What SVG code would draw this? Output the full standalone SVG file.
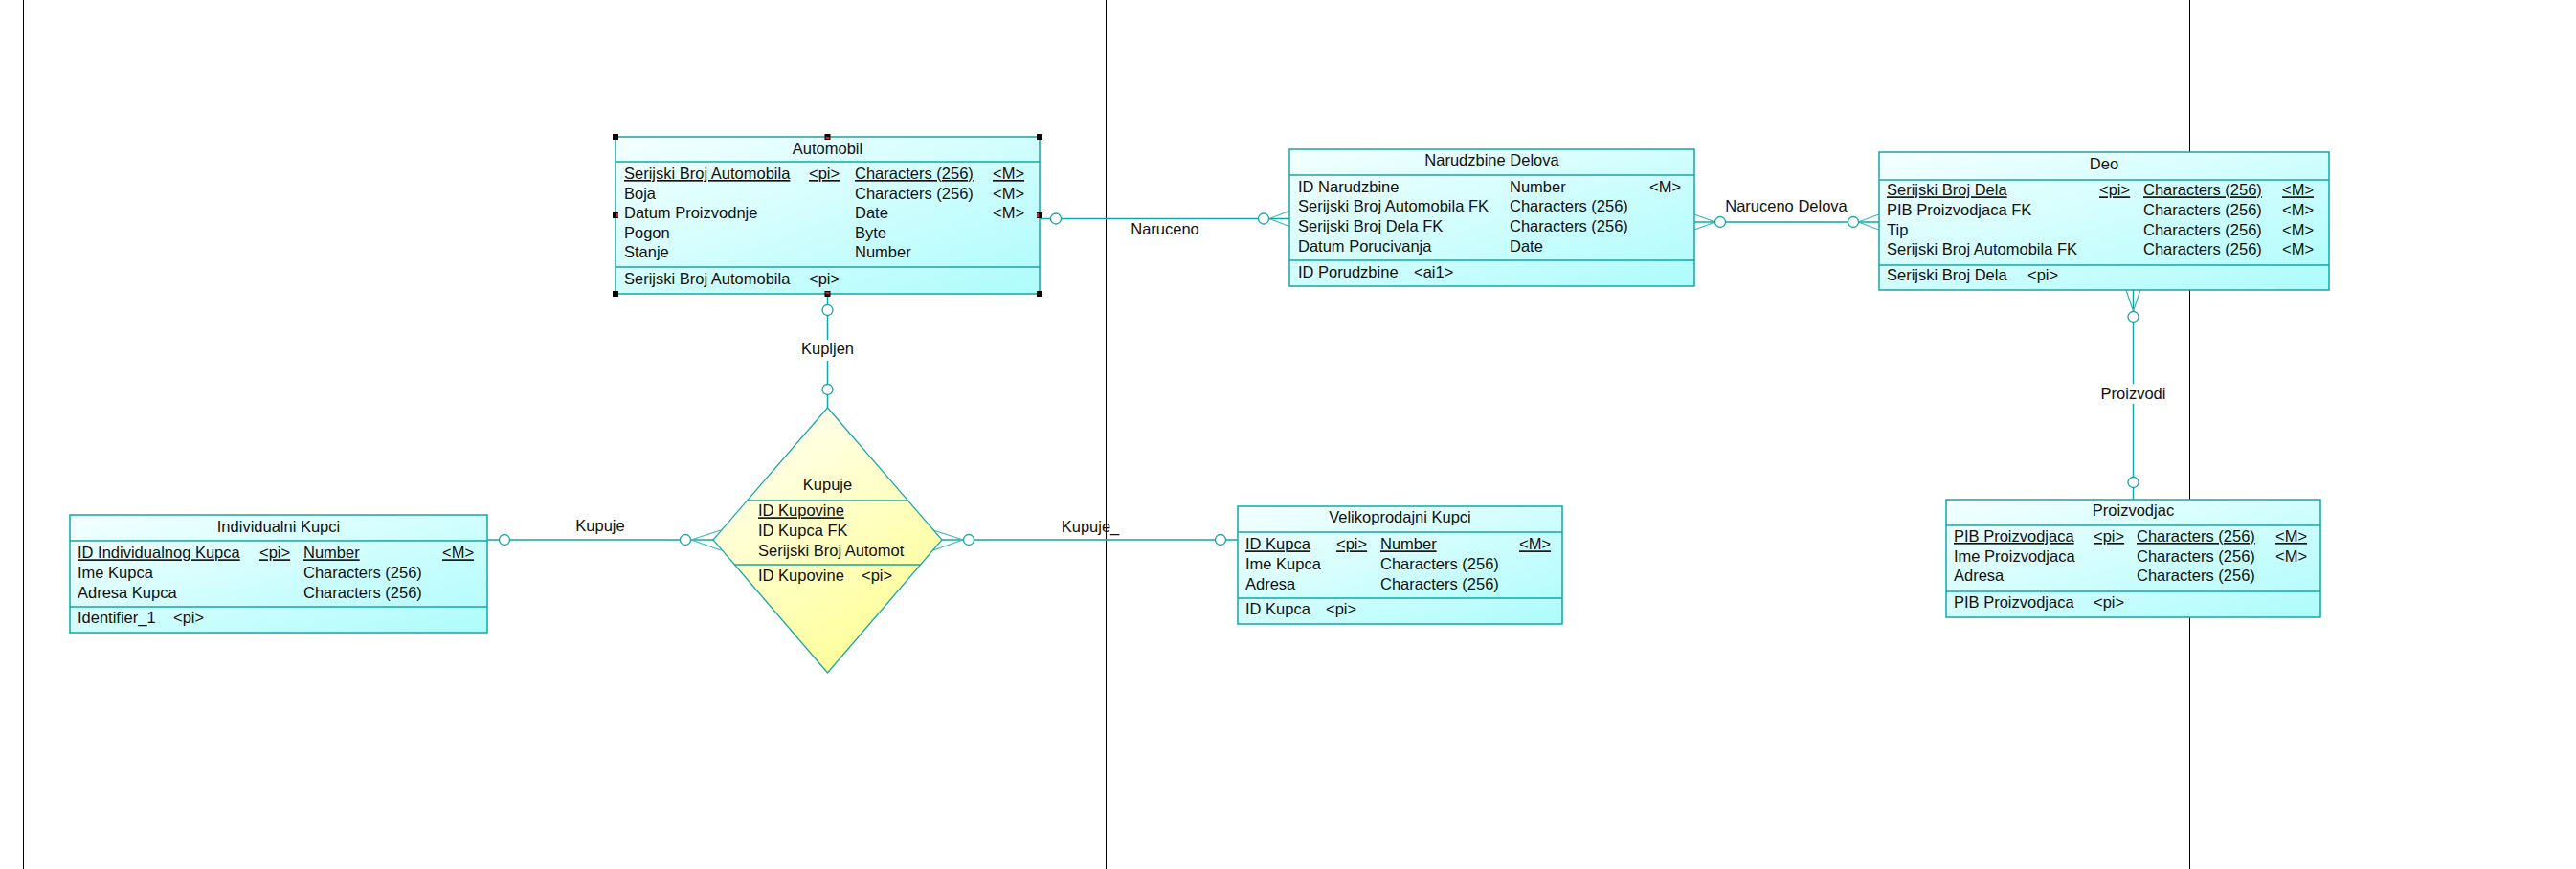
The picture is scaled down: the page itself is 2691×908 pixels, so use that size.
<svg xmlns="http://www.w3.org/2000/svg" width="2691" height="908" viewBox="0 0 2691 908">
  <defs>
    <linearGradient id="entGrad" x1="0" y1="0" x2="1" y2="1">
      <stop offset="0" stop-color="#f4ffff"/>
      <stop offset="1" stop-color="#aefcfc"/>
    </linearGradient>
    <linearGradient id="relGrad" x1="0.2" y1="0" x2="0.8" y2="1">
      <stop offset="0" stop-color="#fffff4"/>
      <stop offset="1" stop-color="#ffff90"/>
    </linearGradient>
    <style>
      .frame { stroke: #000; stroke-width: 1; shape-rendering: crispEdges; }
      .box { fill: url(#entGrad); stroke: #14a6a6; stroke-width: 1.5; }
      .rel { fill: url(#relGrad); stroke: #14a6a6; stroke-width: 1.2; }
      .sep { stroke: #14a6a6; stroke-width: 1.5; }
      .ln { stroke: #14a6a6; stroke-width: 1.5; fill: none; }
      .crow { stroke: #3cb8b8; stroke-width: 1.3; fill: none; }
      .circ { stroke: #14a6a6; stroke-width: 1.3; fill: #fff; }
      text { font-family: "Liberation Sans", Arial, sans-serif; font-size: 16.5px; fill: #111; }
      .title { text-anchor: middle; }
      .u { text-decoration: underline; }
      .lbl { text-anchor: middle; }
      .hnd { fill: #000; }
      .hr { fill: #d0202a; }
    </style>
  </defs>

  <rect width="2691" height="908" fill="#fff"/>

  <!-- page boundaries -->
  <g id="page-lines">
    <line class="frame" x1="24.5" y1="0" x2="24.5" y2="908"/>
    <line class="frame" x1="1155.5" y1="0" x2="1155.5" y2="908"/>
    <line class="frame" x1="2287.5" y1="0" x2="2287.5" y2="908"/>
  </g>

  <!-- relationships -->
  <g id="connectors">
    <!-- Naruceno: Automobil - Narudzbine Delova -->
    <line class="ln" x1="1086" y1="228.5" x2="1347" y2="228.5"/>
    <circle class="circ" cx="1103" cy="228.5" r="5.5"/>
    <circle class="circ" cx="1320" cy="228.5" r="5.5"/>
    <path class="crow" d="M1326 228.5 L1347 220.5 M1326 228.5 L1347 236.5"/>
    <text x="1217" y="245" class="lbl">Naruceno</text>

    <!-- Naruceno Delova: Narudzbine Delova - Deo -->
    <line class="ln" x1="1770" y1="232" x2="1963" y2="232"/>
    <path class="crow" d="M1792 232 L1770 224 M1792 232 L1770 240"/>
    <path class="crow" d="M1941 232 L1963 224 M1941 232 L1963 240"/>
    <circle class="circ" cx="1797" cy="232" r="5.5"/>
    <circle class="circ" cx="1936" cy="232" r="5.5"/>
    <text x="1866" y="221" class="lbl">Naruceno Delova</text>

    <!-- Proizvodi: Deo - Proizvodjac -->
    <line class="ln" x1="2228.5" y1="303" x2="2228.5" y2="522"/>
    <path class="crow" d="M2228.5 325 L2221 303 M2228.5 325 L2236 303"/>
    <circle class="circ" cx="2228.5" cy="331" r="5.5"/>
    <circle class="circ" cx="2228.5" cy="504" r="5.5"/>
    <rect x="2196" y="401" width="65" height="21" fill="#fff"/>
    <text x="2228.5" y="417" class="lbl">Proizvodi</text>

    <!-- Kupljen: Automobil - Kupuje -->
    <line class="ln" x1="864.5" y1="307" x2="864.5" y2="426"/>
    <circle class="circ" cx="864.5" cy="324" r="5.5"/>
    <circle class="circ" cx="864.5" cy="407" r="5.5"/>
    <rect x="835" y="355" width="60" height="22" fill="#fff"/>
    <text x="864.5" y="370" class="lbl">Kupljen</text>

    <!-- Kupuje: Individualni Kupci - Kupuje -->
    <line class="ln" x1="509" y1="564" x2="745" y2="564"/>
    <circle class="circ" cx="527" cy="564" r="5.5"/>
    <circle class="circ" cx="716" cy="564" r="5.5"/>
    <path class="crow" d="M722 564 L753 554 M722 564 L753 575"/>
    <text x="627" y="555" class="lbl">Kupuje</text>

    <!-- Kupuje_: Kupuje - Velikoprodajni Kupci -->
    <line class="ln" x1="984" y1="564" x2="1293" y2="564"/>
    <circle class="circ" cx="1012" cy="564" r="5.5"/>
    <circle class="circ" cx="1275" cy="564" r="5.5"/>
    <path class="crow" d="M1006 564 L975 554 M1006 564 L975 575"/>
    <text x="1139" y="556" class="lbl">Kupuje_</text>
  </g>

  <!-- entity: Automobil -->
  <g id="automobil">
    <rect class="box" x="643" y="143" width="443" height="164"/>
    <line class="sep" x1="643" y1="169" x2="1086" y2="169"/>
    <line class="sep" x1="643" y1="279" x2="1086" y2="279"/>
    <text x="864.5" y="161" class="title">Automobil</text>
    <text x="652" y="187" class="u">Serijski Broj Automobila</text>
    <text x="845" y="187" class="u">&lt;pi&gt;</text>
    <text x="893" y="187" class="u">Characters (256)</text>
    <text x="1037" y="187" class="u">&lt;M&gt;</text>
    <text x="652" y="207.6">Boja</text>
    <text x="893" y="207.6">Characters (256)</text>
    <text x="1037" y="207.6">&lt;M&gt;</text>
    <text x="652" y="228.2">Datum Proizvodnje</text>
    <text x="893" y="228.2">Date</text>
    <text x="1037" y="228.2">&lt;M&gt;</text>
    <text x="652" y="248.8">Pogon</text>
    <text x="893" y="248.8">Byte</text>
    <text x="652" y="269.4">Stanje</text>
    <text x="893" y="269.4">Number</text>
    <text x="652" y="297">Serijski Broj Automobila</text>
    <text x="845" y="297">&lt;pi&gt;</text>
    <!-- selection handles -->
    <rect class="hnd" x="640" y="140" width="6" height="6"/>
    <rect class="hnd" x="861.5" y="140" width="6" height="6"/>
    <rect class="hnd" x="1083" y="140" width="6" height="6"/>
    <rect class="hnd" x="640" y="222" width="6" height="6"/>
    <rect class="hnd" x="1083" y="222" width="6" height="6"/>
    <rect class="hnd" x="640" y="304" width="6" height="6"/>
    <rect class="hnd" x="861.5" y="304" width="6" height="6"/>
    <rect class="hnd" x="1083" y="304" width="6" height="6"/>
    <rect class="hr" x="862.5" y="143" width="4" height="2"/>
    <rect class="hr" x="862.5" y="305" width="4" height="2"/>
    <rect class="hr" x="1083" y="223" width="2" height="4"/>
    <rect class="hr" x="644" y="223" width="2" height="4"/>
  </g>

  <!-- entity: Narudzbine Delova -->
  <g id="narudzbine-delova">
    <rect class="box" x="1347" y="156" width="423" height="143"/>
    <line class="sep" x1="1347" y1="183" x2="1770" y2="183"/>
    <line class="sep" x1="1347" y1="272" x2="1770" y2="272"/>
    <text x="1558.5" y="173" class="title">Narudzbine Delova</text>
    <text x="1356" y="200.7">ID Narudzbine</text>
    <text x="1577" y="200.7">Number</text>
    <text x="1723" y="200.7">&lt;M&gt;</text>
    <text x="1356" y="221.3">Serijski Broj Automobila FK</text>
    <text x="1577" y="221.3">Characters (256)</text>
    <text x="1356" y="241.9">Serijski Broj Dela FK</text>
    <text x="1577" y="241.9">Characters (256)</text>
    <text x="1356" y="262.5">Datum Porucivanja</text>
    <text x="1577" y="262.5">Date</text>
    <text x="1356" y="289.5">ID Porudzbine</text>
    <text x="1477" y="289.5">&lt;ai1&gt;</text>
  </g>

  <!-- entity: Deo -->
  <g id="deo">
    <rect class="box" x="1963" y="159" width="470" height="144"/>
    <line class="sep" x1="1963" y1="188" x2="2433" y2="188"/>
    <line class="sep" x1="1963" y1="277" x2="2433" y2="277"/>
    <text x="2198" y="177.3" class="title">Deo</text>
    <text x="1971" y="204.3" class="u">Serijski Broj Dela</text>
    <text x="2193" y="204.3" class="u">&lt;pi&gt;</text>
    <text x="2239" y="204.3" class="u">Characters (256)</text>
    <text x="2384" y="204.3" class="u">&lt;M&gt;</text>
    <text x="1971" y="224.9">PIB Proizvodjaca FK</text>
    <text x="2239" y="224.9">Characters (256)</text>
    <text x="2384" y="224.9">&lt;M&gt;</text>
    <text x="1971" y="245.5">Tip</text>
    <text x="2239" y="245.5">Characters (256)</text>
    <text x="2384" y="245.5">&lt;M&gt;</text>
    <text x="1971" y="266.1">Serijski Broj Automobila FK</text>
    <text x="2239" y="266.1">Characters (256)</text>
    <text x="2384" y="266.1">&lt;M&gt;</text>
    <text x="1971" y="293.3">Serijski Broj Dela</text>
    <text x="2118" y="293.3">&lt;pi&gt;</text>
  </g>

  <!-- entity: Individualni Kupci -->
  <g id="individualni-kupci">
    <rect class="box" x="73" y="538" width="436" height="123"/>
    <line class="sep" x1="73" y1="565" x2="509" y2="565"/>
    <line class="sep" x1="73" y1="634" x2="509" y2="634"/>
    <text x="291" y="555.7" class="title">Individualni Kupci</text>
    <text x="81" y="583.3" class="u">ID Individualnog Kupca</text>
    <text x="271" y="583.3" class="u">&lt;pi&gt;</text>
    <text x="317" y="583.3" class="u">Number</text>
    <text x="462" y="583.3" class="u">&lt;M&gt;</text>
    <text x="81" y="603.9">Ime Kupca</text>
    <text x="317" y="603.9">Characters (256)</text>
    <text x="81" y="624.5">Adresa Kupca</text>
    <text x="317" y="624.5">Characters (256)</text>
    <text x="81" y="651">Identifier_1</text>
    <text x="181" y="651">&lt;pi&gt;</text>
  </g>

  <!-- relationship entity: Kupuje -->
  <g id="kupuje">
    <polygon class="rel" points="864.5,426 984,564 864.5,703 745,564"/>
    <line class="sep" x1="780.4" y1="523" x2="948.5" y2="523"/>
    <line class="sep" x1="767.3" y1="590" x2="961.6" y2="590"/>
    <text x="864.5" y="512.3" class="title">Kupuje</text>
    <text x="792" y="539.3" class="u">ID Kupovine</text>
    <text x="792" y="560">ID Kupca FK</text>
    <text x="792" y="580.5">Serijski Broj Automot</text>
    <text x="792" y="607">ID Kupovine</text>
    <text x="900" y="607">&lt;pi&gt;</text>
  </g>

  <!-- entity: Velikoprodajni Kupci -->
  <g id="velikoprodajni-kupci">
    <rect class="box" x="1293" y="529" width="339" height="123"/>
    <line class="sep" x1="1293" y1="556" x2="1632" y2="556"/>
    <line class="sep" x1="1293" y1="625" x2="1632" y2="625"/>
    <text x="1462.5" y="546" class="title">Velikoprodajni Kupci</text>
    <text x="1301" y="574.3" class="u">ID Kupca</text>
    <text x="1396" y="574.3" class="u">&lt;pi&gt;</text>
    <text x="1442" y="574.3" class="u">Number</text>
    <text x="1587" y="574.3" class="u">&lt;M&gt;</text>
    <text x="1301" y="594.9">Ime Kupca</text>
    <text x="1442" y="594.9">Characters (256)</text>
    <text x="1301" y="615.5">Adresa</text>
    <text x="1442" y="615.5">Characters (256)</text>
    <text x="1301" y="642">ID Kupca</text>
    <text x="1385" y="642">&lt;pi&gt;</text>
  </g>

  <!-- entity: Proizvodjac -->
  <g id="proizvodjac">
    <rect class="box" x="2033" y="522" width="391" height="123"/>
    <line class="sep" x1="2033" y1="549" x2="2424" y2="549"/>
    <line class="sep" x1="2033" y1="618" x2="2424" y2="618"/>
    <text x="2228.5" y="539" class="title">Proizvodjac</text>
    <text x="2041" y="566" class="u">PIB Proizvodjaca</text>
    <text x="2187" y="566" class="u">&lt;pi&gt;</text>
    <text x="2232" y="566" class="u">Characters (256)</text>
    <text x="2377" y="566" class="u">&lt;M&gt;</text>
    <text x="2041" y="586.6">Ime Proizvodjaca</text>
    <text x="2232" y="586.6">Characters (256)</text>
    <text x="2377" y="586.6">&lt;M&gt;</text>
    <text x="2041" y="607.2">Adresa</text>
    <text x="2232" y="607.2">Characters (256)</text>
    <text x="2041" y="635">PIB Proizvodjaca</text>
    <text x="2187" y="635">&lt;pi&gt;</text>
  </g>
</svg>
